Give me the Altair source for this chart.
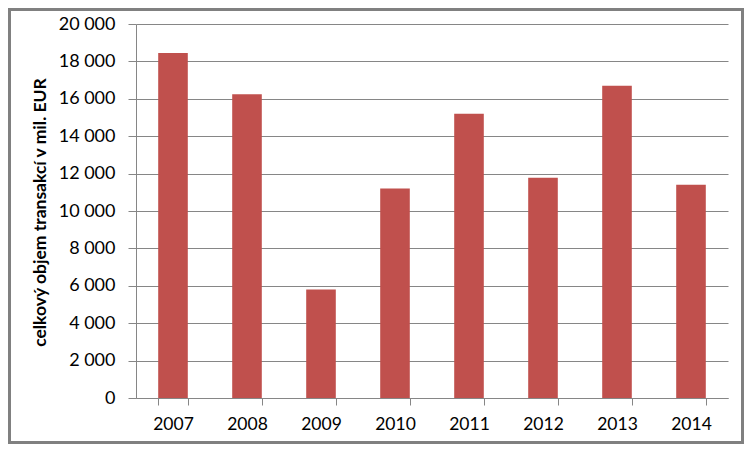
import altair as alt
import pandas as pd

years = ["2007", "2008", "2009", "2010", "2011", "2012", "2013", "2014"]
values = [18450, 16250, 5800, 11200, 15200, 11780, 16700, 11400]
y_ticks = [0, 2000, 4000, 6000, 8000, 10000, 12000, 14000, 16000, 18000, 20000]

df = pd.DataFrame({"rok": years, "objem": values})

FONT = "Lato"
GRAY = "#868686"

bars = alt.Chart(df).mark_bar(color="#C0504D").encode(
    x=alt.X(
        "rok:N",
        sort=years,
        scale=alt.Scale(paddingInner=0.6, paddingOuter=0.3),
        axis=alt.Axis(
            title=None,
            labelAngle=0,
            labelFont=FONT,
            labelFontSize=17.5,
            labelColor="#000000",
            labelPadding=10,
            tickBand="extent",
            tickSize=7,
            tickColor=GRAY,
            domainColor=GRAY,
            grid=False,
        ),
    ),
    y=alt.Y(
        "objem:Q",
        scale=alt.Scale(domain=[0, 20000], nice=False),
        axis=alt.Axis(
            values=y_ticks,
            title="celkový objem transakcí v mil. EUR",
            titleFont=FONT,
            titleFontSize=17.5,
            titleFontWeight="bold",
            titleColor="#000000",
            titleAngle=-90,
            titleX=-96,
            titleY=188,
            titleAlign="center",
            titleBaseline="middle",
            labelExpr="replace(format(datum.value, ',d'), ',', ' ')",
            labelFont=FONT,
            labelFontSize=18,
            labelColor="#000000",
            labelPadding=13,
            tickSize=8,
            tickColor=GRAY,
            domainColor=GRAY,
            grid=True,
            gridColor=GRAY,
            gridWidth=1,
        ),
    ),
)

frame = alt.Chart(df).mark_rect(
    fill=None, stroke="#808080", strokeWidth=3, clip=False
).encode(
    x=alt.value(-126.5),
    x2=alt.value(606.5),
    y=alt.value(-14.5),
    y2=alt.value(418.5),
)

chart = (
    alt.layer(bars, frame)
    .properties(
        width=592,
        height=374,
        autosize=alt.AutoSizeParams(type="none"),
        padding={"left": 128, "top": 16, "right": 16, "bottom": 46},
        background="white",
    )
    .configure_view(stroke=None)
)

chart.save("out.html", embed_options={"renderer": "svg", "actions": False})
